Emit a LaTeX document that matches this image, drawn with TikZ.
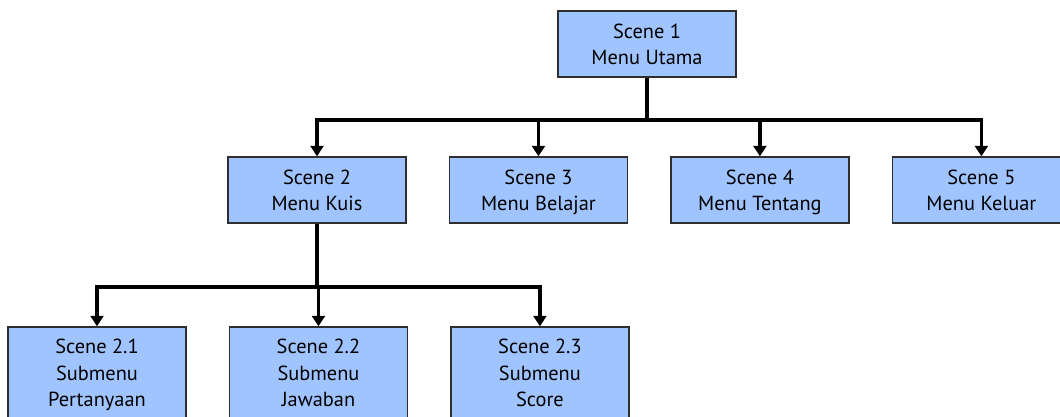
\documentclass[tikz,border=0pt]{standalone}
\usepackage{fontspec}
\setmainfont{PT Sans}
\usepackage{tikz}
\usetikzlibrary{positioning}
\usetikzlibrary{arrows.meta}
\definecolor{scenefill}{HTML}{A0C4FF}
\definecolor{sceneline}{HTML}{2E2E2E}

\begin{document}
\begin{tikzpicture}[x=0.025cm,y=-0.025cm,
        >={Triangle[width=0.32cm,length=0.26cm]},
        scene/.style={draw=sceneline,line width=1pt,fill=scenefill,
          minimum width=4.45cm,minimum height=1.65cm,align=center,
          inner sep=0pt,font=\fontsize{14.5}{18.8}\selectfont,
          text depth=0pt},
        subscene/.style={scene,minimum height=2.3cm},
        link/.style={draw=black,line width=2.3pt}]

\useasboundingbox (0,0) rectangle (1060,416);
\clip (0,0) rectangle (1060,416);

 \node[scene] (s1) at (647,44) {Scene 1\\Menu Utama};
 \node[scene] (s2) at (317,190) {Scene 2\\Menu Kuis};
 \node[scene] (s3) [right=1.05cm of s2] {Scene 3\\Menu Belajar};
 \node[scene] (s4) [right=1.05cm of s3] {Scene 4\\Menu Tentang};
 \node[scene] (s5) [right=1.05cm of s4] {Scene 5\\Menu Keluar};
 \node[subscene] (s21) at (97,373) {Scene 2.1\\Submenu\\Pertanyaan};
 \node[subscene] (s22) [right=1.05cm of s21] {Scene 2.2\\Submenu\\Jawaban};
 \node[subscene] (s23) [right=1.05cm of s22] {Scene 2.3\\Submenu\\Score};

 % cabang menu utama
 \coordinate (j1) at (s1.south |- 0,120);
 \path[link] (s1.south) -- (j1);
 \foreach \t in {s2,s3,s4,s5}
   \path[link,->] (j1) -| (\t.north);

 % cabang menu kuis
 \coordinate (j2) at (s2.south |- 0,287);
 \path[link] (s2.south) -- (j2);
 \foreach \t in {s21,s22,s23}
   \path[link,->] (j2) -| (\t.north);

\end{tikzpicture}
\end{document}
